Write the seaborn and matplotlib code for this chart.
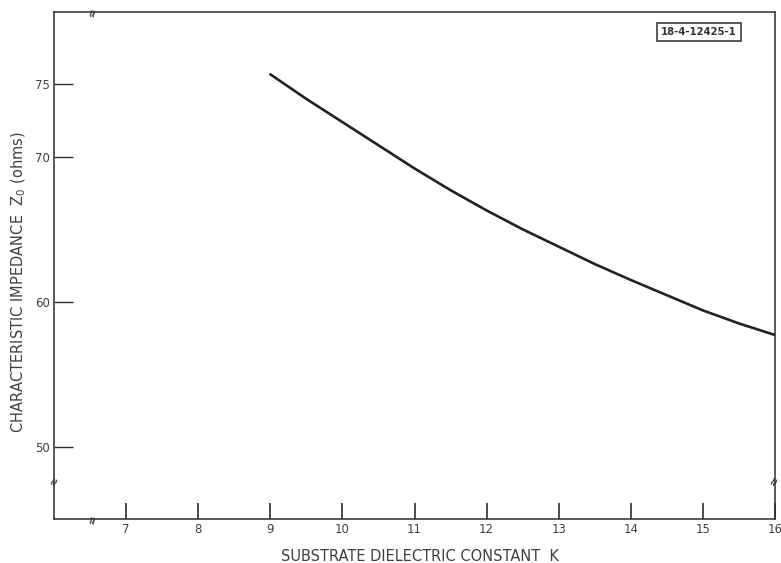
import matplotlib
matplotlib.use("Agg")
import matplotlib.pyplot as plt
import seaborn as sns
import pandas as pd

# Data
dielectric_k = [9, 9.5, 10, 10.5, 11, 11.5, 12, 12.5, 13, 13.5, 14, 14.5, 15, 15.5, 16]
impedance_z0 = [75.7, 74.0, 72.4, 70.8, 69.2, 67.7, 66.3, 65.0, 63.8, 62.6, 61.5, 60.45, 59.4, 58.5, 57.7]

x_ticks = [7, 8, 9, 10, 11, 12, 13, 14, 15, 16]
y_ticks = [50, 60, 70, 75]
x_label = "SUBSTRATE DIELECTRIC CONSTANT  K"
y_label = "CHARACTERISTIC IMPEDANCE  Z$_\\mathregular{0}$ (ohms)"
tag_text = "18-4-12425-1"

sns.set_theme(style="white")
plt.rcParams['font.family'] = ['DejaVu Sans']

ink = "#2e2e2e"
txt = "#404040"
fig = plt.figure(figsize=(7.81, 5.63), dpi=100)
ax = fig.add_axes([54/781, 1-519/563, (775-54)/781, (519-12)/563])

df = pd.DataFrame({"K": dielectric_k, "Z0": impedance_z0})
sns.lineplot(data=df, x="K", y="Z0", ax=ax, color="#222222", linewidth=1.9)

ax.set_xlim(6, 16)
ax.set_ylim(45, 80)
ax.set_xticks(x_ticks)
ax.set_yticks(y_ticks)
ax.set_xticklabels([str(t) for t in x_ticks])
ax.set_yticklabels([str(t) for t in y_ticks])

ax.tick_params(axis="x", bottom=True, direction="in", length=11.5, width=1.2, color=ink,
               labelsize=8.5, labelcolor=txt, pad=3)
ax.tick_params(axis="y", left=True, direction="in", length=13.5, width=1.0, color=ink,
               labelsize=8.5, labelcolor=txt, pad=3)

for s in ax.spines.values():
    s.set_color(ink)
    s.set_linewidth(1.1)

ax.set_xlabel(x_label, fontsize=10.5, color=txt)
ax.set_ylabel(y_label, fontsize=10.5, color=txt)
ax.xaxis.set_label_coords(0.507, -0.06)
ax.yaxis.set_label_coords(-0.036, 0.467)

# axis-break marks
for (bx, by, rot) in [(6, 47.6, 60), (15.985, 47.6, 60), (6.53, 80, 80), (6.53, 45, 80)]:
    ax.text(bx, by, "≈", ha="center", va="center", fontsize=8, rotation=rot,
            color=ink, clip_on=False, fontweight="bold")

ax.text(0.8946, 0.9606, tag_text, transform=ax.transAxes, ha="center", va="center",
        fontsize=7.2, fontweight="bold", color="#333333",
        bbox=dict(boxstyle="square,pad=0.38", facecolor="white", edgecolor=ink, linewidth=1.1))

fig.savefig("out.png", dpi=100)
